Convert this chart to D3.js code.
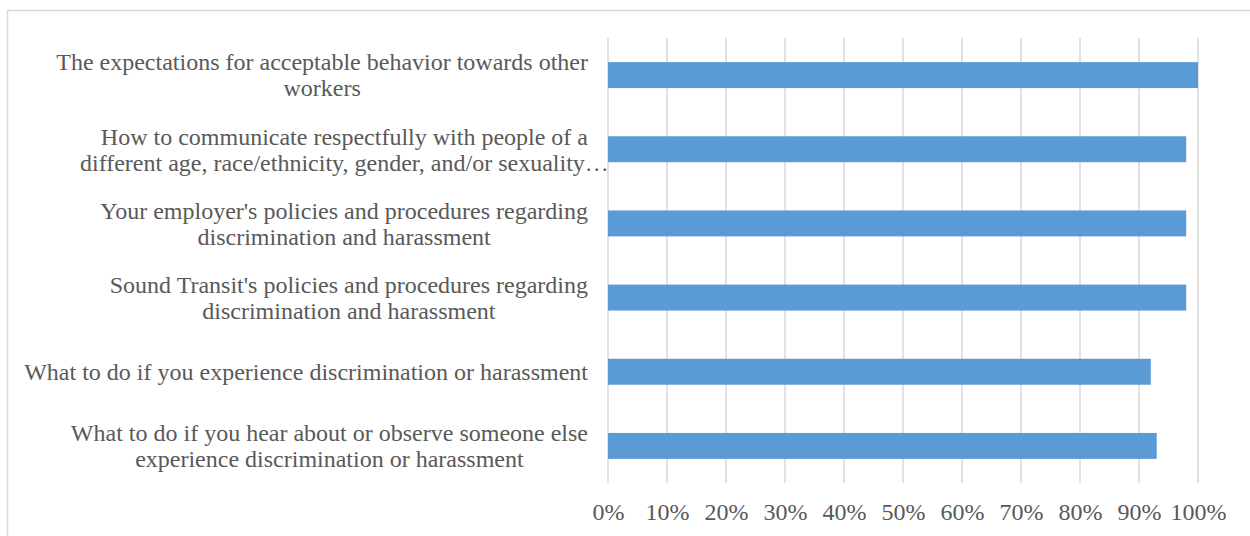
<!DOCTYPE html>
<html>
<head>
<meta charset="utf-8">
<script src="https://cdn.jsdelivr.net/npm/d3@7"></script>
<style>
  html, body { margin: 0; padding: 0; background: #ffffff; }
  svg { display: block; }
  text { font-family: "Liberation Serif", "Times New Roman", "DejaVu Serif", serif; fill: #595959; }
</style>
</head>
<body>
<svg id="chart" width="1250" height="536"></svg>
<script>
// Training topics (top to bottom), each split into its display lines
const topics = [
  ["The expectations for acceptable behavior towards other", "workers"],
  ["How to communicate respectfully with people of a", "different age, race/ethnicity, gender, and/or sexuality\u2026"],
  ["Your employer's policies and procedures regarding", "discrimination and harassment"],
  ["Sound Transit's policies and procedures regarding", "discrimination and harassment"],
  ["What to do if you experience discrimination or harassment"],
  ["What to do if you hear about or observe someone else", "experience discrimination or harassment"]
];
// Share of respondents for each topic
const shares = [1.00, 0.98, 0.98, 0.98, 0.92, 0.93];
// Axis ticks
const tickValues = [0, 0.1, 0.2, 0.3, 0.4, 0.5, 0.6, 0.7, 0.8, 0.9, 1.0];

const W = 1250, H = 536;
const margin = { left: 608, right: 52, top: 38, bottom: 53 };
const fontSize = 24;
const svg = d3.select("#chart");

// Outer chart frame
svg.append("rect")
  .attr("x", 7.5).attr("y", 10.5)
  .attr("width", W + 10).attr("height", H + 10)
  .attr("fill", "none").attr("stroke", "#d9d9d9").attr("stroke-width", 1.5);

const x = d3.scaleLinear().domain([0, 1]).range([margin.left, W - margin.right]);
const y = d3.scaleBand()
  .domain(d3.range(topics.length))
  .range([margin.top, H - margin.bottom])
  .paddingInner(0.65).paddingOuter(0.325);

// Vertical gridlines
svg.append("g").selectAll("line").data(tickValues).join("line")
  .attr("x1", d => x(d)).attr("x2", d => x(d))
  .attr("y1", margin.top).attr("y2", H - margin.bottom)
  .attr("stroke", "#d9d9d9").attr("stroke-width", 1.5);

// Bars
svg.append("g").selectAll("rect").data(shares).join("rect")
  .attr("x", x(0))
  .attr("y", (d, i) => y(i))
  .attr("width", d => x(d) - x(0))
  .attr("height", y.bandwidth())
  .attr("fill", "#5b9bd5");

// Bottom axis labels
const xAxis = d3.axisBottom(x).tickValues(tickValues).tickFormat(d3.format(".0%")).tickSize(0).tickPadding(20);
const ax = svg.append("g").attr("transform", `translate(0,${H - margin.bottom})`).call(xAxis);
ax.select(".domain").remove();
ax.selectAll("text").attr("font-size", fontSize).attr("fill", "#595959");

// Category labels
const lineH = 26;
const lab = svg.append("g");
topics.forEach((lines, i) => {
  const cy = y(i) + y.bandwidth() / 2;
  const t = lab.append("text")
    .attr("font-size", fontSize)
    .attr("text-anchor", "middle");
  const n = lines.length;
  lines.forEach((ln, k) => {
    t.append("tspan")
      .attr("x", 0)
      .attr("y", cy + (k - (n - 1) / 2) * lineH)
      .attr("dy", "0.35em")
      .text(ln);
  });
  // centre the block on its first line so that line ends at the label edge
  const w0 = t.select("tspan").node().getComputedTextLength();
  t.selectAll("tspan").attr("x", 588 - w0 / 2);
});
</script>
</body>
</html>
